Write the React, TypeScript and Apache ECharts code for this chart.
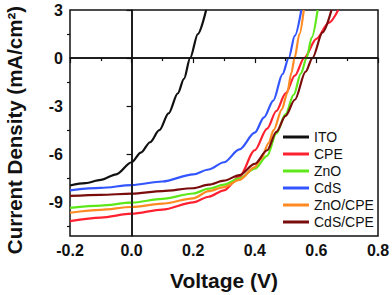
import React, { useEffect, useRef } from "react";
import * as echarts from "echarts";

const seriesNames = ["ITO", "CPE", "ZnO", "CdS", "ZnO/CPE", "CdS/CPE"];
const seriesColors = ["#111111", "#ff2030", "#5ee81a", "#3355ff", "#ff8a22", "#7a0c0c"];

const itoV = [-0.2, -0.15, -0.1, -0.05, 0, 0.03, 0.06, 0.09, 0.12, 0.15, 0.17, 0.19, 0.215, 0.242];
const itoJ = [-7.95, -7.8, -7.6, -7.25, -6.5, -5.9, -5.25, -4.5, -3.45, -2.2, -1.3, 0, 1.5, 3];

const cpeV = [-0.2, -0.1, 0, 0.1, 0.2, 0.25, 0.3, 0.35, 0.4, 0.44, 0.47, 0.5, 0.53, 0.56, 0.6, 0.64, 0.671];
const cpeJ = [-10.17, -9.95, -9.71, -9.45, -9.0, -8.65, -8.25, -7.4, -5.75, -4.4, -3.3, -2.2, -1.1, 0, 1.2, 2.2, 3];

const znoV = [-0.2, -0.1, 0, 0.1, 0.2, 0.25, 0.3, 0.35, 0.4, 0.44, 0.47, 0.5, 0.526, 0.55, 0.568, 0.585, 0.604];
const znoJ = [-9.35, -9.2, -9.02, -8.78, -8.45, -8.15, -7.9, -7.5, -6.9, -6.1, -4.7, -3.5, -2.3, -0.95, 0, 1.3, 3];

const cdsV = [-0.2, -0.1, 0, 0.1, 0.2, 0.25, 0.3, 0.35, 0.4, 0.43, 0.46, 0.49, 0.51, 0.53, 0.551];
const cdsJ = [-8.25, -8.1, -7.92, -7.7, -7.25, -6.95, -6.5, -5.7, -4.65, -3.7, -2.65, -1.0, 0, 1.4, 3];

const znoCpeV = [-0.2, -0.1, 0, 0.1, 0.2, 0.25, 0.3, 0.35, 0.4, 0.42, 0.445, 0.461, 0.488, 0.505, 0.519, 0.529, 0.545, 0.559];
const znoCpeJ = [-9.65, -9.47, -9.29, -9.08, -8.75, -8.3, -8.05, -7.6, -6.8, -6.3, -5.3, -4.5, -3.2, -2.2, -0.9, 0, 1.5, 3];

const cdsCpeV = [-0.2, -0.1, 0, 0.1, 0.2, 0.25, 0.3, 0.35, 0.4, 0.44, 0.47, 0.5, 0.53, 0.565, 0.587, 0.62, 0.649];
const cdsCpeJ = [-8.6, -8.53, -8.46, -8.3, -8.12, -7.9, -7.65, -7.3, -6.6, -5.75, -4.6, -3.6, -2.6, -0.85, 0, 1.6, 3];

const allV = [itoV, cpeV, znoV, cdsV, znoCpeV, cdsCpeV];
const allJ = [itoJ, cpeJ, znoJ, cdsJ, znoCpeJ, cdsCpeJ];

const yMajorTicks = [-9, -6, -3, 0, 3];
const yMinorTicks = [-10.5, -7.5, -4.5, -1.5, 1.5];

const FONT = "'Liberation Sans', Arial, sans-serif";

export default function App() {
  const ref = useRef<HTMLDivElement>(null);
  useEffect(() => {
    if (!ref.current) return;
    const chart = echarts.init(ref.current, null, { renderer: "svg" });
    const series: any[] = seriesNames.map((name, i) => ({
      name,
      type: "line",
      data: allV[i].map((v, k) => [v, allJ[i][k]]),
      showSymbol: false,
      symbol: "none",
      smooth: 0.3,
      smoothMonotone: "x",
      lineStyle: { color: seriesColors[i], width: 2.2 },
      itemStyle: { color: seriesColors[i] },
      clip: true,
      z: 3,
    }));
    series.push({
      type: "line",
      data: [],
      z: 4,
      markLine: {
        silent: true,
        symbol: "none",
        label: { show: false },
        lineStyle: { color: "#111", width: 1.5, type: "solid" },
        data: [{ xAxis: 0 }, { yAxis: 0 }],
      },
    });
    chart.setOption({
      animation: false,
      grid: {
        left: 70,
        top: 10,
        width: 308,
        height: 226,
        show: true,
        borderColor: "#111",
        borderWidth: 1.5,
        containLabel: false,
        outerBoundsMode: "none",
      },
      legend: {
        data: seriesNames,
        orient: "vertical",
        left: 283,
        top: 130,
        padding: 0,
        icon: "rect",
        itemWidth: 26,
        itemHeight: 3,
        itemGap: 3,
        textStyle: { fontFamily: FONT, fontSize: 14, color: "#111" },
      },
      xAxis: {
        type: "value",
        min: -0.2,
        max: 0.8,
        interval: 0.2,
        name: "Voltage (V)",
        nameLocation: "middle",
        nameGap: 34,
        nameTextStyle: { fontFamily: FONT, fontSize: 21, fontWeight: "bold", color: "#111" },
        axisLine: { show: true, lineStyle: { color: "#111", width: 1.5 } },
        axisTick: { show: true, inside: false, length: 5, lineStyle: { color: "#111", width: 1.2 } },
        minorTick: { show: true, splitNumber: 2, length: 3, lineStyle: { color: "#111", width: 1.2 } },
        splitLine: { show: false },
        axisLabel: {
          fontFamily: FONT,
          fontSize: 16,
          fontWeight: "bold",
          color: "#111",
          margin: 6,
          formatter: (v: number) => v.toFixed(1),
        },
      },
      yAxis: [
        {
          type: "value",
          min: -11.1,
          max: 3,
          name: "Current Density (mA/cm²)",
          nameLocation: "middle",
          nameGap: 45,
          nameTextStyle: {
            fontFamily: FONT,
            fontSize: 20.5,
            fontWeight: "bold",
            color: "#111",
            padding: [0, 14, 0, 0],
          },
          axisLine: { show: true, lineStyle: { color: "#111", width: 1.5 } },
          axisTick: { show: true, inside: false, length: 5, customValues: yMajorTicks, lineStyle: { color: "#111", width: 1.2 } },
          splitLine: { show: false },
          axisLabel: {
            fontFamily: FONT,
            fontSize: 16,
            fontWeight: "bold",
            color: "#111",
            margin: 7,
            customValues: yMajorTicks,
          },
        },
        {
          type: "value",
          min: -11.1,
          max: 3,
          position: "left",
          axisLine: { show: false },
          axisLabel: { show: false },
          splitLine: { show: false },
          axisTick: { show: true, inside: false, length: 3, customValues: yMinorTicks, lineStyle: { color: "#111", width: 1.2 } },
        },
      ],
      series,
    });
    return () => chart.dispose();
  }, []);
  return (
    <div
      ref={ref}
      style={{ position: "fixed", left: 0, top: 0, width: 392, height: 295, background: "#fff" }}
    />
  );
}
